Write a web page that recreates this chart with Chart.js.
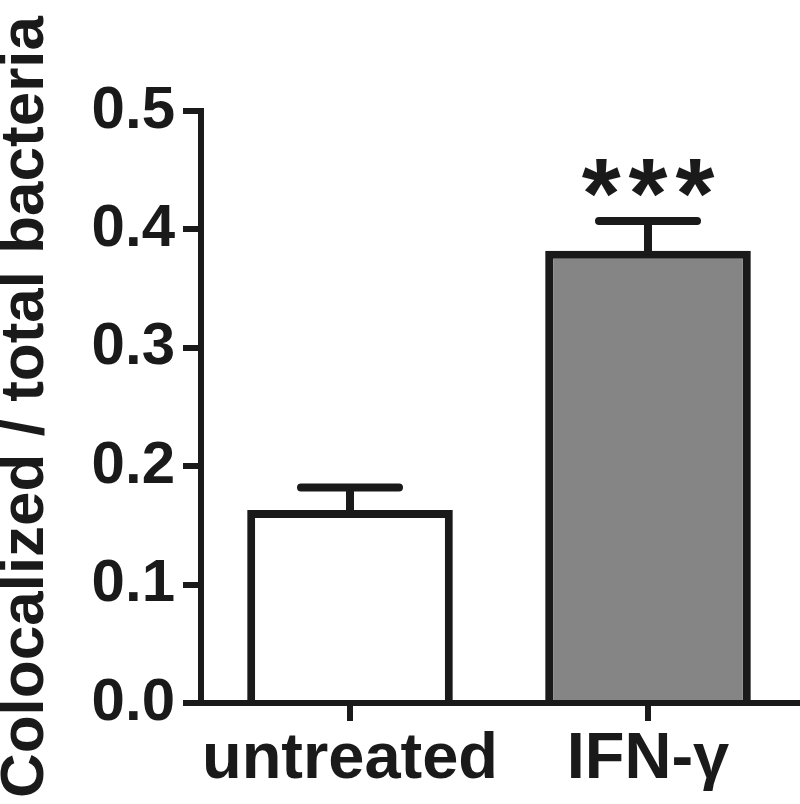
<!DOCTYPE html>
<html>
<head>
<meta charset="utf-8">
<script src="https://cdn.jsdelivr.net/npm/chart.js@4/dist/chart.umd.min.js"></script>
<style>
  body { margin: 0; background: #ffffff; }
  canvas { display: block; }
</style>
</head>
<body>
<canvas id="coloc" width="800" height="804"></canvas>
<script>
const categories = ["untreated", "IFN-\u03b3"];
const meanValues = [0.163, 0.382];
const semValues = [0.019, 0.025];
const sigLabels = ["", "***"];
const yTickValues = [0, 0.1, 0.2, 0.3, 0.4, 0.5];

const ink = "#1a1a1a";
const fontFamily = '"Liberation Sans", Arial, Helvetica, sans-serif';

// error bars + significance stars, drawn from the data through the y scale
const errorBarPlugin = {
  id: "errorBars",
  afterDatasetsDraw(chart) {
    const ctx = chart.ctx;
    const yScale = chart.scales.y;
    const meta = chart.getDatasetMeta(0);
    ctx.save();
    ctx.strokeStyle = ink;
    ctx.fillStyle = ink;
    meta.data.forEach(function (bar, i) {
      const x = bar.x;
      const yTop = yScale.getPixelForValue(meanValues[i]);
      const yErr = yScale.getPixelForValue(meanValues[i] + semValues[i]);
      ctx.lineWidth = 8;
      ctx.lineCap = "butt";
      ctx.beginPath();
      ctx.moveTo(x, yTop + 4);
      ctx.lineTo(x, yErr);
      ctx.stroke();
      ctx.lineCap = "round";
      ctx.beginPath();
      ctx.moveTo(x - 49, yErr);
      ctx.lineTo(x + 49, yErr);
      ctx.stroke();
      if (sigLabels[i]) {
        ctx.font = "bold 100px " + fontFamily;
        ctx.letterSpacing = "8px";
        ctx.textAlign = "center";
        ctx.textBaseline = "alphabetic";
        ctx.fillText(sigLabels[i], x + 4, yErr + 7);
      }
    });
    ctx.restore();
  },
};

Chart.defaults.color = ink;
Chart.defaults.font.family = fontFamily;

new Chart(document.getElementById("coloc"), {
  type: "bar",
  data: {
    labels: categories,
    datasets: [
      {
        data: meanValues,
        backgroundColor: ["#ffffff", "#858585"],
        borderColor: ink,
        borderWidth: 8,
        barPercentage: 0.69,
        categoryPercentage: 1.0,
      },
    ],
  },
  options: {
    responsive: false,
    animation: false,
    layout: { padding: { top: 111, right: 3, bottom: 0, left: 0 } },
    plugins: {
      legend: { display: false },
      tooltip: { enabled: false },
    },
    scales: {
      x: {
        grid: {
          offset: false,
          drawOnChartArea: false,
          drawTicks: true,
          tickLength: 18,
          lineWidth: 6,
          tickWidth: 6,
          tickColor: ink,
          z: 1,
        },
        border: { display: true, width: 6, color: ink, z: 1 },
        ticks: {
          padding: 7,
          autoSkip: false,
          maxRotation: 0,
          minRotation: 0,
          font: { size: 65, weight: "bold", lineHeight: 1 },
        },
        afterFit(scale) {
          scale.height = 101;
        },
      },
      y: {
        min: 0,
        max: 0.5,
        afterBuildTicks(scale) {
          scale.ticks = yTickValues.map(function (v) {
            return { value: v };
          });
        },
        grid: {
          drawOnChartArea: false,
          drawTicks: true,
          tickLength: 18,
          lineWidth: 6,
          tickWidth: 6,
          tickColor: ink,
        },
        border: { display: true, width: 6, color: ink },
        ticks: {
          padding: 8,
          font: { size: 60, weight: "bold" },
          callback: function (v) {
            return Number(v).toFixed(1);
          },
        },
        title: {
          display: true,
          text: "Colocalized / total bacteria",
          padding: { top: 0, bottom: 0 },
          font: { size: 62, weight: "bold", lineHeight: 0.84 },
        },
        afterFit(scale) {
          scale.width = 201;
        },
      },
    },
  },
  plugins: [errorBarPlugin],
});
</script>
</body>
</html>
